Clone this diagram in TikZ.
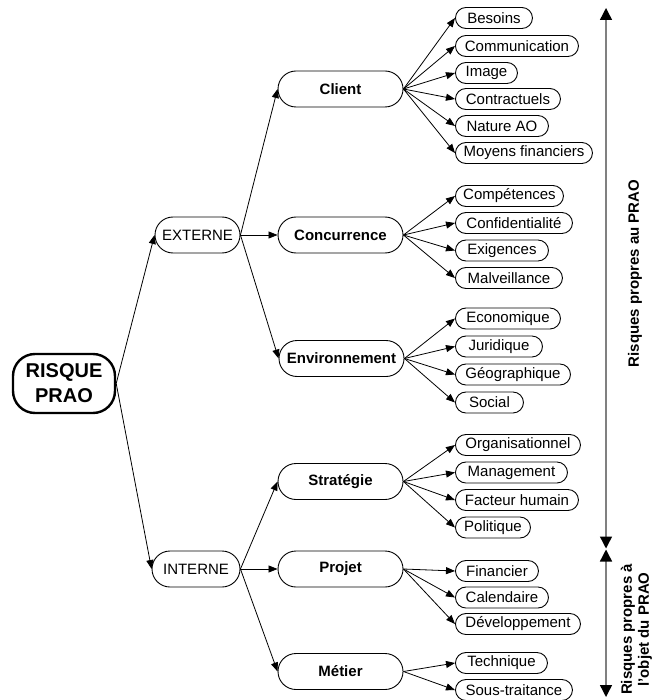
\documentclass[tikz,border=0pt]{standalone}
\usepackage{fontspec}
\setmainfont{Liberation Sans}
\usetikzlibrary{arrows.meta}
\begin{document}
\begin{tikzpicture}[x=1pt,y=-1pt,
  base/.style={draw=black, line width=0.9pt, font=\fontsize{15}{18}\selectfont, inner sep=0pt, align=center},
  leaf/.style={base, minimum height=21pt, minimum width=#1, rounded corners=10.5pt, anchor=west},
  lvl/.style={base, minimum height=36pt, minimum width=#1, rounded corners=18pt},
  mid/.style={base, font=\bfseries\fontsize{15}{18}\selectfont, minimum width=125pt, minimum height=36pt, rounded corners=18pt},
  root/.style={base, line width=2.4pt, font=\bfseries\fontsize{20}{25}\selectfont, minimum width=102pt, minimum height=59pt, rounded corners=22pt},
  conn/.style={-{Triangle[length=9pt,width=7pt]}, line width=0.8pt},
  side/.style={draw=gray, line width=1.4pt, {Triangle[length=12pt,width=12pt,color=black,fill=black]}-{Triangle[length=12pt,width=12pt,color=black,fill=black]}},
  sidelab/.style={font=\bfseries\fontsize{15}{17}\selectfont, rotate=90, align=center, inner sep=0pt}
]
\useasboundingbox (0,0) rectangle (656,700);

% root and levels
\node[root] (root) at (64,383.5) {RISQUE\\PRAO};
\node[lvl=85pt] (ext) at (197.5,235) {EXTERNE};
\node[lvl=88pt] (int) at (196,569) {INTERNE};

\node[mid] (client) at (340.5,89) {Client};
\node[mid] (conc) at (340.5,235) {Concurrence};
\node[mid] (env) at (341.5,358.5) {Environnement};
\node[mid] (strat) at (340.5,481.5) {Stratégie};
\node[mid] (proj) at (340.5,569) {Projet};
\node[mid] (met) at (340.5,671.5) {Métier};

% leaves
\node[leaf=77pt] (l1) at (455,18) {Besoins};
\node[leaf=123pt] (l2) at (455,46) {Communication};
\node[leaf=62pt] (l3) at (455,73) {Image};
\node[leaf=105pt] (l4) at (455,99) {Contractuels};
\node[leaf=93pt] (l5) at (455,126) {Nature AO};
\node[leaf=137pt] (l6) at (455,153) {Moyens financiers};

\node[leaf=108pt] (c1) at (455,196) {Compétences};
\node[leaf=117pt] (c2) at (455,223) {Confidentialité};
\node[leaf=93pt] (c3) at (455,250.5) {Exigences};
\node[leaf=107pt] (c4) at (455,278) {Malveillance};

\node[leaf=105pt] (e1) at (455,318.5) {Economique};
\node[leaf=87pt] (e2) at (455,346.5) {Juridique};
\node[leaf=115pt] (e3) at (455,374.5) {Géographique};
\node[leaf=68pt] (e4) at (455,402.5) {Social};

\node[leaf=125pt] (s1) at (455,445) {Organisationnel};
\node[leaf=112pt] (s2) at (455,472.5) {Management};
\node[leaf=123pt] (s3) at (455,500) {Facteur humain};
\node[leaf=75pt] (s4) at (455,527.5) {Politique};

\node[leaf=83pt] (p1) at (455,571) {Financier};
\node[leaf=93pt] (p2) at (455,597.5) {Calendaire};
\node[leaf=125pt] (p3) at (455,624) {Développement};

\node[leaf=92pt] (m1) at (455,663) {Technique};
\node[leaf=117pt] (m2) at (455,690) {Sous-traitance};

% connectors
\draw[conn] (root.east) -- (ext.west);
\draw[conn] (root.east) -- (int.west);
\foreach \t in {client,conc,env} \draw[conn] (ext.east) -- (\t.west);
\foreach \t in {strat,proj,met} \draw[conn] (int.east) -- (\t.west);
\foreach \t in {l1,l2,l3,l4,l5,l6} \draw[conn] (client.east) -- (\t.west);
\foreach \t in {c1,c2,c3,c4} \draw[conn] (conc.east) -- (\t.west);
\foreach \t in {e1,e2,e3,e4} \draw[conn] (env.east) -- (\t.west);
\foreach \t in {s1,s2,s3,s4} \draw[conn] (strat.east) -- (\t.west);
\foreach \t in {p1,p2,p3} \draw[conn] (proj.east) -- (\t.west);
\foreach \t in {m1,m2} \draw[conn] (met.east) -- (\t.west);

% side arrows
\coordinate (va) at (606,8);
\coordinate (vb) at (606,548.5);
\coordinate (vc) at (606,549.5);
\coordinate (vd) at (606,697);
\draw[side] (va) -- (vb);
\draw[side] (vc) -- (vd);

\node[sidelab] (lab1) at (635,273.5) {Risques propres au PRAO};
\node[sidelab] (lab2) at (636.5,629.5) {Risques propres à\\l'objet du PRAO};
\end{tikzpicture}
\end{document}
